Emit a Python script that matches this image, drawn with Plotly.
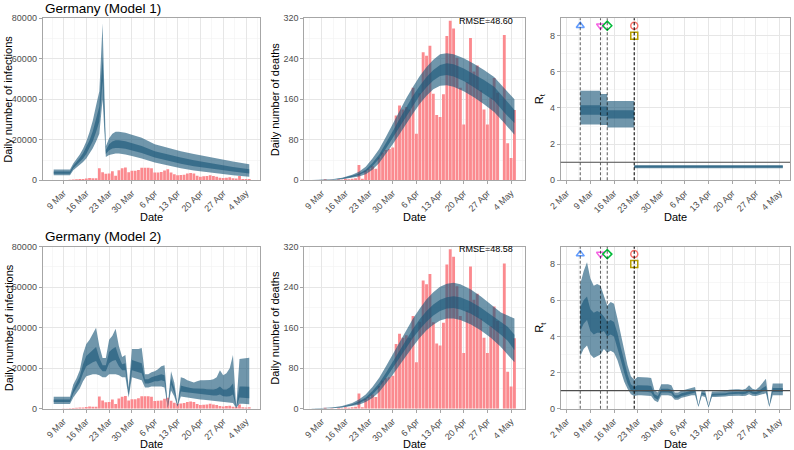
import plotly.graph_objects as go
import pandas as pd

# ---------------- DATA ----------------
obs_dates = pd.date_range("2020-03-09", "2020-05-05").strftime("%Y-%m-%d").tolist()
cases = [100, 150, 250, 350, 500, 600, 600, 900, 1100, 1000, 1000, 6000, 4000, 3200, 3300, 4500, 2300,
         5000, 5900, 6300, 4000, 4700, 4700,
         5100, 6200, 6200, 6200, 5900, 3800, 3900, 4100, 4900, 5400, 3900, 3000, 2500, 2600, 2800, 3300,
         3600, 3300, 2300, 1800, 2000, 2100, 2500, 2100, 1800, 1300, 1100, 1300, 1500, 1000,
         900, 2100, 700, 600, 700]
deaths = [0, 2, 0, 1, 0, 2, 1, 3, 2, 3, 4, 30, 3, 19, 23, 28, 23, 45, 55, 60, 62, 65, 128,
          148, 140, 145, 140, 183, 92, 172, 253, 246, 266, 171, 129, 125, 170, 285, 315, 300, 242,
          183, 110, 194, 281, 215, 227, 178, 140, 110, 163, 202, 173,
          0, 287, 73, 44, 139]

# Model 1 infections
m1_inf_dates = ["2020-03-06", "2020-03-11", "2020-03-12", "2020-03-13", "2020-03-14", "2020-03-15",
                "2020-03-16", "2020-03-17", "2020-03-18", "2020-03-19", "2020-03-20", "2020-03-21",
                "2020-03-22", "2020-03-23", "2020-03-24", "2020-03-25", "2020-03-26", "2020-03-28",
                "2020-03-30", "2020-04-02", "2020-04-06", "2020-04-10", "2020-04-14", "2020-04-18",
                "2020-04-22", "2020-04-26", "2020-04-30", "2020-05-05"]
m1_inf_lo95 = [2500, 2500, 5000, 6300, 7600, 9000, 10800, 13000, 15800, 19200, 23000, 40000,
               11500, 12500, 13000, 13200, 13200, 12800, 12000, 10800, 8800, 7300, 6000, 4900,
               4000, 3200, 2500, 1800]
m1_inf_lo50 = [3200, 3200, 5900, 7400, 9000, 10800, 13000, 15800, 19300, 23800, 29000, 49000,
               13000, 14800, 15700, 16000, 16000, 15600, 14800, 13500, 11200, 9600, 8200, 7000,
               6000, 5100, 4300, 3400]
m1_inf_hi50 = [4400, 4400, 7200, 9000, 11000, 13300, 16200, 19800, 24300, 30000, 36500, 61000,
               15000, 17800, 19200, 19800, 19800, 19300, 18400, 17000, 14400, 12700, 11200, 9900,
               8700, 7600, 6600, 5500]
m1_inf_hi95 = [5300, 5300, 8300, 10400, 12800, 15600, 19200, 23800, 29500, 37000, 44000, 77500,
               16800, 20800, 23000, 24000, 24000, 23500, 22500, 21000, 17800, 16000, 14400, 13000,
               11700, 10500, 9300, 7900]

# Model 1 deaths
m1_dth_dates = ["2020-03-06", "2020-03-09", "2020-03-12", "2020-03-15", "2020-03-18", "2020-03-20",
                "2020-03-22", "2020-03-24", "2020-03-26", "2020-03-28", "2020-03-30", "2020-04-01",
                "2020-04-03", "2020-04-05", "2020-04-07", "2020-04-09", "2020-04-11", "2020-04-13",
                "2020-04-15", "2020-04-17", "2020-04-20", "2020-04-23", "2020-04-26", "2020-04-29",
                "2020-05-02", "2020-05-05"]
m1_dth_lo95 = [0.1, 0.3, 0.9, 2.2, 4.8, 7.5, 12, 21, 34, 52, 71, 91, 112, 132, 151, 167, 180, 187,
               188, 185, 176, 164, 150, 135, 113, 90]
m1_dth_lo50 = [0.15, 0.45, 1.3, 3.0, 6.5, 10.5, 17, 28, 43, 63, 84, 106, 128, 149, 168, 184, 197, 206,
               208, 205, 196, 184, 171, 157, 134, 113]
m1_dth_hi50 = [0.25, 0.6, 1.7, 4.0, 8.5, 13, 21, 34, 51, 73, 97, 121, 145, 167, 187, 204, 218, 228,
               231, 229, 221, 210, 198, 185, 161, 139]
m1_dth_hi95 = [0.35, 0.8, 2.2, 5.0, 11, 17, 27, 43, 62, 86, 112, 137, 162, 185, 206, 224, 238, 249,
               251, 249, 241, 230, 218, 204, 181, 160]

# Model 1 Rt (piecewise constant)
m1_rt_dates = ["2020-03-06", "2020-03-12", "2020-03-14", "2020-03-22", "2020-05-05"]
m1_rt_lo95 = [3.08, 3.06, 2.92, 0.66, 0.66]
m1_rt_lo50 = [3.62, 3.55, 3.42, 0.71, 0.71]
m1_rt_hi50 = [4.15, 4.08, 3.88, 0.79, 0.79]
m1_rt_hi95 = [4.95, 4.77, 4.38, 0.84, 0.84]

# Model 2 (daily, 6 Mar - 5 May)
m2_dates = pd.date_range("2020-03-06", "2020-05-05").strftime("%Y-%m-%d").tolist()
m2_inf_lo95 = [2300] * 6 + [5500, 7500, 10000, 13500, 16000, 16500, 17000, 17000, 16500, 15500, 15500,
               17000, 17000, 17000, 16500, 15500, 15500, 5500, 15500, 15000,
               14500, 14000, 10500, 10500, 11000, 11000, 11000, 11000, 10500, 500, 9000, 6000, 1000,
               6000, 5800, 5500, 5300, 5000, 4800, 4600, 4400, 4200, 4000, 3800, 3700, 3600, 3300,
               3000, 2900, 2800, 300, 2500, 2400, 2300, 2200]
m2_inf_lo50 = [3300] * 6 + [7500, 10000, 13000, 17500, 21000, 22000, 23000, 23500, 20500, 18500, 18500,
               22500, 23500, 24000, 21000, 19000, 19000, 7000, 19000, 18500,
               18000, 17500, 12500, 12500, 13000, 13500, 13500, 14000, 13500, 700, 12000, 8000, 1300,
               8500, 8200, 8000, 7700, 7500, 7300, 7200, 7000, 6800, 6600, 6500, 6500, 7000, 6200,
               6000, 6200, 7000, 500, 5500, 5400, 5300, 5200]
m2_inf_hi50 = [4600] * 6 + [9500, 12500, 16000, 22000, 26000, 27500, 29000, 30500, 25000, 21500, 21500,
               28000, 29500, 30500, 25500, 22000, 22500, 8500, 24000, 23500,
               23000, 22500, 14500, 14500, 15500, 16000, 16500, 17000, 16500, 900, 15000, 10000, 1600,
               11500, 11000, 10500, 10200, 10000, 10000, 10000, 9800, 9600, 9500, 9500, 9800, 11000,
               9500, 9500, 10500, 12500, 700, 11000, 11000, 11000, 10800]
m2_inf_hi95 = [5900] * 6 + [12000, 15000, 19000, 27000, 32000, 34000, 37000, 40000, 31000, 25000, 25000,
               34000, 36000, 39500, 31000, 25500, 26500, 10500, 29500, 29500,
               29500, 30000, 17000, 17000, 18000, 18500, 19500, 21000, 21500, 1200, 18500, 13000, 2000,
               15500, 15000, 14000, 13500, 13000, 13500, 14000, 14000, 14000, 14200, 14500, 15500,
               19000, 16500, 17500, 20000, 26500, 1000, 24500, 24800, 25000, 25200]

m2_rt_lo95 = [2.9, 3.3, 3.5, 3.0, 2.8, 2.9, 3.0, 3.3, 3.1, 3.2, 3.1, 2.7, 2.1, 1.5, 1.1, 0.8, 0.7,
              0.75, 0.75, 0.75, 0.72, 0.7, 0.45, 0.35, 0.75, 0.75,
              0.75, 0.7, 0.5, 0.5, 0.6, 0.65, 0.7, 0.75, 0.75, 0.1, 0.7, 0.65, 0.05, 0.65, 0.65, 0.65,
              0.65, 0.68, 0.7, 0.72, 0.72, 0.72, 0.7, 0.72, 0.8, 0.72, 0.7, 0.75, 0.8, 0.85,
              0.1, 0.75, 0.75, 0.75, 0.75]
m2_rt_lo50 = [4.3, 4.7, 4.9, 4.3, 4.1, 4.2, 4.2, 4.3, 4.0, 4.1, 4.0, 3.4, 2.7, 2.0, 1.4, 1.0, 0.9,
              0.95, 0.95, 0.95, 0.92, 0.9, 0.6, 0.5, 0.9, 0.9,
              0.9, 0.85, 0.6, 0.6, 0.7, 0.75, 0.8, 0.85, 0.9, 0.12, 0.8, 0.75, 0.08, 0.72, 0.72, 0.73,
              0.73, 0.76, 0.8, 0.82, 0.82, 0.82, 0.8, 0.82, 0.92, 0.82, 0.8, 0.85, 0.95, 1.0,
              0.12, 0.92, 0.92, 0.92, 0.92]
m2_rt_hi50 = [5.6, 6.0, 6.2, 5.5, 5.3, 5.4, 5.3, 5.1, 4.8, 4.9, 4.8, 4.2, 3.4, 2.6, 1.9, 1.35, 1.2,
              1.3, 1.3, 1.3, 1.28, 1.25, 0.8, 0.7, 1.1, 1.1,
              1.1, 1.05, 0.75, 0.75, 0.85, 0.9, 0.95, 1.0, 1.05, 0.15, 0.9, 0.85, 0.12, 0.82, 0.82,
              0.83, 0.83, 0.86, 0.9, 0.93, 0.93, 0.93, 0.92, 0.95, 1.08, 0.95, 0.92, 1.0, 1.15, 1.25,
              0.15, 1.15, 1.15, 1.15, 1.15]
m2_rt_hi95 = [6.9, 7.6, 8.1, 7.2, 6.8, 6.9, 6.8, 6.2, 5.7, 5.9, 5.8, 5.0, 4.1, 3.2, 2.4, 1.8, 1.6,
              1.75, 1.75, 1.75, 1.72, 1.7, 1.0, 0.9, 1.35, 1.35,
              1.35, 1.3, 0.9, 0.9, 1.0, 1.05, 1.1, 1.15, 1.2, 0.2, 1.05, 1.0, 0.15, 0.95, 0.95, 0.95,
              0.95, 0.98, 1.05, 1.08, 1.08, 1.08, 1.05, 1.1, 1.3, 1.1, 1.05, 1.2, 1.4, 1.65,
              0.2, 1.4, 1.4, 1.4, 1.4]

# Model 2 deaths
m2_dth_dates = ["2020-03-06", "2020-03-09", "2020-03-12", "2020-03-15", "2020-03-18", "2020-03-20",
                "2020-03-22", "2020-03-24", "2020-03-26", "2020-03-28", "2020-03-30", "2020-04-01",
                "2020-04-03", "2020-04-05", "2020-04-07", "2020-04-09", "2020-04-11", "2020-04-13",
                "2020-04-15", "2020-04-17", "2020-04-19", "2020-04-22", "2020-04-25", "2020-04-28",
                "2020-05-01", "2020-05-03", "2020-05-05"]
m2_dth_lo95 = [0.1, 0.3, 0.9, 2.2, 5, 8, 13, 21, 33, 49, 67, 86, 105, 123, 140, 155, 166, 174, 178,
               178, 175, 167, 155, 140, 122, 108, 92]
m2_dth_lo50 = [0.15, 0.45, 1.3, 3.0, 6.8, 11, 17.5, 28, 42, 60, 80, 101, 121, 140, 157, 172, 184, 193,
               198, 199, 196, 188, 176, 162, 146, 134, 116]
m2_dth_hi50 = [0.25, 0.6, 1.7, 4.0, 9, 14, 22, 35, 51, 71, 93, 116, 138, 158, 177, 193, 206, 215, 220,
               222, 220, 212, 200, 186, 172, 162, 146]
m2_dth_hi95 = [0.35, 0.8, 2.2, 5.2, 11.5, 18, 28, 43, 61, 84, 108, 132, 156, 178, 198, 216, 230, 241,
               247, 249, 246, 236, 222, 206, 190, 184, 178]

rmse = ["RMSE=48.60", "RMSE=48.58"]

# interventions
interv_dates = ["2020-03-06", "2020-03-12", "2020-03-14", "2020-03-22", "2020-03-22"]
interv_y = [8.55, 8.55, 8.55, 8.55, 8.0]
interv_symbol = ["triangle-up-open", "triangle-down-open", "diamond-open", "circle-open", "square-open"]
interv_color = ["#619CFF", "#F564E3", "#00BA38", "#F8766D", "#B79F00"]

# axis ticks
tick_dates_a = ["2020-03-09", "2020-03-16", "2020-03-23", "2020-03-30", "2020-04-06",
                "2020-04-13", "2020-04-20", "2020-04-27", "2020-05-04"]
tick_text_a = ["9 Mar", "16 Mar", "23 Mar", "30 Mar", "6 Apr", "13 Apr", "20 Apr", "27 Apr", "4 May"]
tick_dates_r = ["2020-03-02"] + tick_dates_a
tick_text_r = ["2 Mar"] + tick_text_a

# ---------------- STYLE ----------------
W, H = 794, 450
OUTER = "rgba(25,85,120,0.62)"
INNER = "rgba(25,85,120,0.62)"
BAR = "#FB8A8F"
GRID = "#E6E6E6"
GRIDMINOR = "#F2F2F2"
FRAME = "#A6A6A6"
TXT = "#4D4D4D"
FONT = "Liberation Sans, Arial, sans-serif"
DAY = 86400000

def px(x):
    return x / W

def py(y):
    return 1 - y / H

xdom = [[px(42.7), px(260)], [px(304.3), px(525)], [px(560.7), px(790)]]
ydom = [[py(180.3), py(18.3)], [py(408.7), py(246.7)]]
xranges = [["2020-03-02 15:00", "2020-05-08 07:00"],
           ["2020-03-03 20:00", "2020-05-08 03:00"],
           ["2020-02-29 05:00", "2020-05-07 03:00"]]

fig = go.Figure()

def ax(i):
    return ("x" if i == 1 else f"x{i}"), ("y" if i == 1 else f"y{i}")

def add_band(i, x, lo95, lo50, hi50, hi95, shape="linear"):
    xa, ya = ax(i)
    common = dict(x=x, xaxis=xa, yaxis=ya, mode="lines", line=dict(width=0, shape=shape),
                  hoverinfo="skip", showlegend=False)
    fig.add_trace(go.Scatter(y=lo95, **common))
    fig.add_trace(go.Scatter(y=hi95, fill="tonexty", fillcolor=OUTER, **common))
    fig.add_trace(go.Scatter(y=lo50, **common))
    fig.add_trace(go.Scatter(y=hi50, fill="tonexty", fillcolor=INNER, **common))

def add_bars(i, vals):
    xa, ya = ax(i)
    fig.add_trace(go.Bar(x=obs_dates, y=vals, xaxis=xa, yaxis=ya, marker=dict(color=BAR, line=dict(width=0)),
                         width=[0.85 * DAY] * len(vals), showlegend=False, hoverinfo="skip"))

# Row 1
add_bars(1, cases)
add_band(1, m1_inf_dates, m1_inf_lo95, m1_inf_lo50, m1_inf_hi50, m1_inf_hi95)
add_bars(2, deaths)
add_band(2, m1_dth_dates, m1_dth_lo95, m1_dth_lo50, m1_dth_hi50, m1_dth_hi95)
add_band(3, m1_rt_dates, m1_rt_lo95, m1_rt_lo50, m1_rt_hi50, m1_rt_hi95, shape="hv")
# Row 2
add_bars(4, cases)
add_band(4, m2_dates, m2_inf_lo95, m2_inf_lo50, m2_inf_hi50, m2_inf_hi95)
add_bars(5, deaths)
add_band(5, m2_dth_dates, m2_dth_lo95, m2_dth_lo50, m2_dth_hi50, m2_dth_hi95)
add_band(6, m2_dates, m2_rt_lo95, m2_rt_lo50, m2_rt_hi50, m2_rt_hi95)

shapes = []
for i in (3, 6):
    xa, ya = ax(i)
    for d in interv_dates:
        shapes.append(dict(type="line", xref=xa, yref=f"{ya} domain", x0=d, x1=d, y0=0, y1=1,
                           line=dict(color="rgba(0,0,0,0.6)", width=1.1, dash="3px,2px")))
    shapes.append(dict(type="line", xref=f"{xa} domain", yref=ya, x0=0, x1=1, y0=1, y1=1,
                       line=dict(color="#4D4D4D", width=1.1)))
    for d, yv, s, c in zip(interv_dates, interv_y, interv_symbol, interv_color):
        fig.add_trace(go.Scatter(x=[d], y=[yv], xaxis=xa, yaxis=ya, mode="markers",
                                 marker=dict(symbol=s, size=7, color=c, line=dict(width=1.5, color=c)),
                                 showlegend=False, hoverinfo="skip"))

layout = dict(width=W, height=H, margin=dict(l=0, r=0, t=0, b=0, autoexpand=False), plot_bgcolor="white",
              paper_bgcolor="white", showlegend=False, barmode="overlay",
              font=dict(family=FONT, color="black"), shapes=shapes)

def minor_vals(ticks):
    ts = pd.to_datetime(ticks)
    vals = [t - pd.Timedelta(hours=84) for t in ts] + [ts[-1] + pd.Timedelta(hours=84)]
    return [v.strftime("%Y-%m-%d %H:%M") for v in vals]

yspec = [(80000, 20000), (320, 80), (8.96, 2)]
for i in range(1, 7):
    col = (i - 1) % 3
    row = (i - 1) // 3
    xa, ya = ax(i)
    tv, tt = (tick_dates_r, tick_text_r) if col == 2 else (tick_dates_a, tick_text_a)
    xkey = "xaxis" if i == 1 else f"xaxis{i}"
    ykey = "yaxis" if i == 1 else f"yaxis{i}"
    layout[xkey] = dict(domain=xdom[col], anchor=ya, type="date", range=xranges[col],
                        tickmode="array", tickvals=tv, ticktext=tt, tickangle=-45,
                        tickfont=dict(size=9, color=TXT, family=FONT), ticks="outside", ticklen=3,
                        tickcolor=FRAME, showline=True, linecolor=FRAME, linewidth=1, mirror=True,
                        showgrid=True, gridcolor=GRID, gridwidth=1, zeroline=False, automargin=False,
                        minor=dict(tickmode="array", tickvals=minor_vals(tv), showgrid=True,
                                   gridcolor=GRIDMINOR, gridwidth=0.6, ticks=""))
    ymax, step = yspec[col]
    yt = list(range(0, int(ymax) + 1, step)) if col < 2 else [0, 2, 4, 6, 8]
    layout[ykey] = dict(domain=ydom[row], anchor=xa, range=[0, ymax], tickmode="array", tickvals=yt,
                        tickformat="d", tickfont=dict(size=9, color=TXT, family=FONT), ticks="outside",
                        ticklen=3, tickcolor=FRAME, showline=True, linecolor=FRAME, linewidth=1,
                        mirror=True, showgrid=True, gridcolor=GRID, gridwidth=1, zeroline=False,
                        automargin=False,
                        minor=dict(dtick=step / 2, tick0=0, showgrid=True, gridcolor=GRIDMINOR,
                                   gridwidth=0.6, ticks=""))

ann = []
titles = ["Germany (Model 1)", "Germany (Model 2)"]
title_y = [8.3, 236.7]
date_y = [216.7, 444]
ylab = [("Daily number of infections", 8.5), ("Daily number of deaths", 275), ("R<sub>t</sub>", 540)]
for row in range(2):
    ann.append(dict(text=titles[row], x=px(43), y=py(title_y[row]), xref="paper", yref="paper",
                    xanchor="left", yanchor="middle", showarrow=False, font=dict(size=13.5, color="black")))
    ymid = (ydom[row][0] + ydom[row][1]) / 2
    for col in range(3):
        ann.append(dict(text="Date", x=(xdom[col][0] + xdom[col][1]) / 2, y=py(date_y[row]), xref="paper",
                        yref="paper", xanchor="center", yanchor="middle", showarrow=False,
                        font=dict(size=11, color="black")))
        t, xx = ylab[col]
        ann.append(dict(text=t, x=px(xx), y=ymid, xref="paper", yref="paper", xanchor="center",
                        yanchor="middle", textangle=-90, showarrow=False, font=dict(size=11, color="black")))
    ann.append(dict(text=rmse[row], x=px(514.5), y=py([21, 249.3][row]), xref="paper", yref="paper",
                    xanchor="right", yanchor="middle", showarrow=False, font=dict(size=9, color="black")))
layout["annotations"] = ann

fig.update_layout(**layout)
fig.write_html("out.html", config={"displayModeBar": False, "staticPlot": True},
               post_script="document.body.style.margin='0';document.body.style.overflow='hidden';")
